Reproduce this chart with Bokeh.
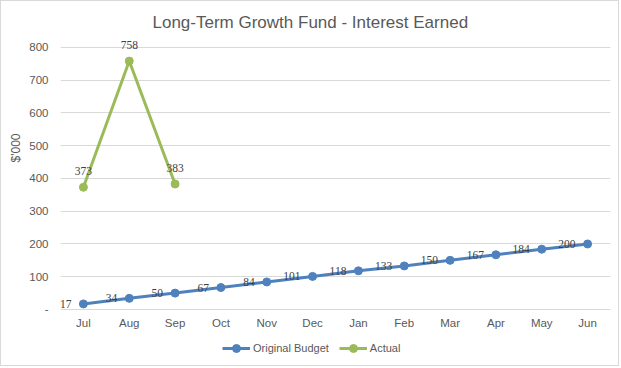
from bokeh.plotting import figure
from bokeh.models import (ColumnDataSource, FactorRange, Range1d, FixedTicker, Legend, LegendItem,
                          LabelSet, Title)
from bokeh.embed import file_html
from bokeh.resources import INLINE

months = ["Jul", "Aug", "Sep", "Oct", "Nov", "Dec", "Jan", "Feb", "Mar", "Apr", "May", "Jun"]
budget = [17, 34, 50, 67, 84, 101, 118, 133, 150, 167, 184, 200]
actual_months = ["Jul", "Aug", "Sep"]
actual = [373, 758, 383]
y_ticks = [0, 100, 200, 300, 400, 500, 600, 700, 800]

BLUE = "#4F81BD"
GREEN = "#9BBB59"
GRAY_TXT = "#595959"
FONT = "Liberation Sans"

src_b = ColumnDataSource(dict(x=months, y=budget, t=[str(v) for v in budget]))
src_a = ColumnDataSource(dict(x=actual_months, y=actual, t=[str(v) for v in actual]))

p = figure(width=619, height=366, output_backend="svg", toolbar_location=None,
           x_range=FactorRange(*months, range_padding=0), y_range=Range1d(-177, 830),
           min_border_left=59, min_border_right=10, min_border_top=36, min_border_bottom=0,
           outline_line_color=None)
p.styles = {"border": "1px solid #d9d9d9"}

p.add_layout(Title(text="Long-Term Growth Fund - Interest Earned", align="left", offset=92,
                   text_font=FONT, text_font_size="17px", text_font_style="normal",
                   text_color=GRAY_TXT, standoff=11, padding=(0, 0, 3, 0)), "above")
p.add_layout(Title(text="$'000", align="left", offset=205,
                   text_font=FONT, text_font_size="12px", text_font_style="normal",
                   text_color=GRAY_TXT, standoff=8, padding=(0, 0, 6, 0)), "left")

# axes
p.yaxis.ticker = FixedTicker(ticks=y_ticks)
p.yaxis.major_label_overrides = {0: "-"}
p.yaxis.axis_line_color = None
p.yaxis.major_tick_line_color = None
p.yaxis.minor_tick_line_color = None
p.yaxis.major_tick_out = 0
p.yaxis.major_tick_in = 0
p.yaxis.major_label_standoff = 12
p.yaxis.major_label_text_font = FONT
p.yaxis.major_label_text_font_size = "11.5px"
p.yaxis.major_label_text_color = GRAY_TXT

p.xaxis.fixed_location = 0
p.xaxis.axis_line_color = "#d9d9d9"
p.xaxis.major_tick_line_color = None
p.xaxis.minor_tick_line_color = None
p.xaxis.major_tick_out = 0
p.xaxis.major_tick_in = 0
p.xaxis.major_label_standoff = 8
p.xaxis.major_label_text_font = FONT
p.xaxis.major_label_text_font_size = "11.5px"
p.xaxis.major_label_text_color = GRAY_TXT

p.xgrid.grid_line_color = None
p.ygrid.grid_line_color = "#d9d9d9"
p.ygrid.grid_line_width = 1

# series
bl = p.line("x", "y", source=src_b, line_color=BLUE, line_width=3)
bc = p.scatter("x", "y", source=src_b, size=8, fill_color=BLUE, line_color=BLUE)
al = p.line("x", "y", source=src_a, line_color=GREEN, line_width=3)
ac = p.scatter("x", "y", source=src_a, size=8, fill_color=GREEN, line_color=GREEN)

p.add_layout(LabelSet(x="x", y="y", text="t", source=src_b, x_offset=-12, y_offset=0,
                      text_align="right", text_baseline="middle", text_font=FONT,
                      text_font_size="11.5px", text_color="#404040"))
p.add_layout(LabelSet(x="x", y="y", text="t", source=src_a, x_offset=0, y_offset=16,
                      text_align="center", text_baseline="middle", text_font=FONT,
                      text_font_size="11.5px", text_color="#404040"))

legend = Legend(items=[LegendItem(label="Original Budget", renderers=[bl, bc]),
                       LegendItem(label="Actual", renderers=[al, ac])],
                orientation="horizontal", location=(162, 9), padding=0, margin=0,
                spacing=10, glyph_width=28, label_standoff=3,
                label_text_font=FONT, label_text_font_size="11px", label_text_color=GRAY_TXT,
                background_fill_alpha=0, border_line_color=None)
p.add_layout(legend)

open("out.html", "w").write(file_html(p, INLINE))
